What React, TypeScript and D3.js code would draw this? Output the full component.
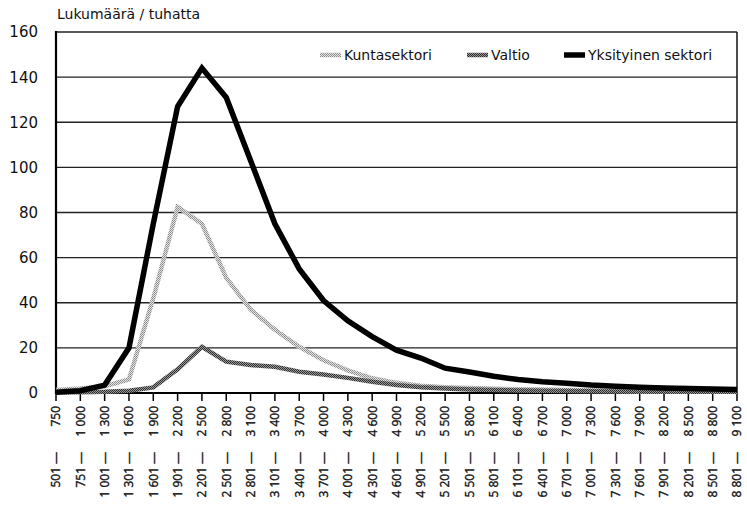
import * as d3 from "d3";

const categoriesLow = [
  "501", "751", "1 001", "1 301", "1 601", "1 901", "2 201", "2 501", "2 801", "3 101",
  "3 401", "3 701", "4 001", "4 301", "4 601", "4 901", "5 201", "5 501", "5 801", "6 101",
  "6 401", "6 701", "7 001", "7 301", "7 601", "7 901", "8 201", "8 501", "8 801",
];
const categoriesHigh = [
  "750", "1 000", "1 300", "1 600", "1 900", "2 200", "2 500", "2 800", "3 100", "3 400",
  "3 700", "4 000", "4 300", "4 600", "4 900", "5 200", "5 500", "5 800", "6 100", "6 400",
  "6 700", "7 000", "7 300", "7 600", "7 900", "8 200", "8 500", "8 800", "9 100",
];
const categories = categoriesLow.map((lo, i) => `${lo} – ${categoriesHigh[i]}`);

const kunta = [
  1.3, 2, 3, 6, 42, 82.5, 75, 51, 37, 28, 20.5, 14.5, 10, 6.5, 4.5,
  3.2, 2.6, 2.2, 1.9, 1.7, 1.5, 1.3, 1.2, 1.1, 1, 1, 0.9, 0.9, 0.8,
];
const valtio = [
  0.3, 0.3, 0.5, 1, 2.5, 10.5, 20.5, 13.9, 12.4, 11.6, 9.4, 8.2, 6.7, 5, 3.5,
  2.6, 2, 1.6, 1.3, 1.1, 1, 0.9, 0.8, 0.7, 0.6, 0.6, 0.5, 0.5, 0.5,
];
const yksityinen = [
  0.3, 1, 3.5, 20, 75, 127, 144, 131, 103, 75, 55, 41, 32, 25, 19,
  15.5, 11, 9.3, 7.4, 6, 5, 4.3, 3.5, 3, 2.6, 2.2, 2, 1.8, 1.6,
];
const yTicks = [0, 20, 40, 60, 80, 100, 120, 140, 160];

const series = [
  { name: "Kuntasektori", values: kunta, stroke: "url(#patKunta)", width: 4.5, legendX: 320 },
  { name: "Valtio", values: valtio, stroke: "url(#patValtio)", width: 4.5, legendX: 467 },
  { name: "Yksityinen sektori", values: yksityinen, stroke: "#000", width: 5.5, legendX: 564 },
];

const W = 747, H = 513;
const left = 56, right = 737, top = 32, bottom = 393;
const wide = "DejaVu Sans, sans-serif";
const narrow = "Open Sans, Noto Sans, sans-serif";

export default function App() {
  const x = d3.scalePoint<string>().domain(categories).range([left, right]);
  const y = d3.scaleLinear().domain([0, 160]).range([bottom, top]);
  const line = d3.line<number>()
    .x((_, i) => x(categories[i]) as number)
    .y((d) => y(d));

  const labelProps = {
    fontFamily: narrow, fontSize: 12, fill: "#111", stroke: "#111", strokeWidth: 0.35,
  };

  return (
    <svg width={W} height={H} style={{ position: "absolute", left: 0, top: 0, background: "#fff" }}>
      <defs>
        <pattern id="patKunta" width={2} height={2} patternUnits="userSpaceOnUse">
          <rect width={2} height={2} fill="#e2e2e2" />
          <rect width={1} height={1} fill="#8a8a8a" />
          <rect x={1} y={1} width={1} height={1} fill="#9a9a9a" />
        </pattern>
        <pattern id="patValtio" width={2} height={2} patternUnits="userSpaceOnUse">
          <rect width={2} height={2} fill="#999" />
          <rect width={1} height={1} fill="#2a2a2a" />
          <rect x={1} y={1} width={1} height={1} fill="#333" />
        </pattern>
      </defs>

      <text x={57} y={19} fontSize={14} fill="#111" fontFamily={wide}>Lukumäärä / tuhatta</text>

      {yTicks.map((t) => (
        <g key={t}>
          <line x1={left} x2={right} y1={y(t)} y2={y(t)} stroke="#222" strokeWidth={1.3} />
          <text x={38} y={y(t)} dy="0.36em" textAnchor="end" fontSize={15} fill="#111"
            fontFamily={wide}>{t}</text>
        </g>
      ))}
      <line x1={right} x2={right} y1={top} y2={bottom} stroke="#111" strokeWidth={1.5} />
      <line x1={left} x2={left} y1={top - 1} y2={bottom + 1} stroke="#000" strokeWidth={2.2} />
      <line x1={left} x2={right} y1={bottom} y2={bottom} stroke="#000" strokeWidth={2.2} />

      {categories.map((c, i) => (
        <g key={c} transform={`translate(${x(c)},${bottom})`}>
          <line y1={0} y2={8} stroke="#000" strokeWidth={1.5} />
          <text transform="rotate(-90)" x={-13} y={0} dy="0.36em" textAnchor="end"
            {...labelProps}>{categoriesHigh[i]}</text>
          <text transform="rotate(-90)" x={-65} y={0} dy="0.36em" textAnchor="middle"
            {...labelProps}>{"\u2014"}</text>
          <text transform="rotate(-90)" x={-74} y={0} dy="0.36em" textAnchor="end"
            {...labelProps}>{categoriesLow[i]}</text>
        </g>
      ))}

      {series.map((s) => (
        <path key={s.name} d={line(s.values) ?? ""} fill="none" stroke={s.stroke}
          strokeWidth={s.width} strokeLinejoin="miter" />
      ))}

      {series.map((s) => (
        <g key={s.name}>
          <line x1={s.legendX} x2={s.legendX + 21} y1={55} y2={55}
            stroke={s.stroke} strokeWidth={s.width} />
          <text x={s.legendX + 24} y={55} dy="0.36em" fontSize={14} fill="#111"
            fontFamily={wide}>{s.name}</text>
        </g>
      ))}
    </svg>
  );
}
